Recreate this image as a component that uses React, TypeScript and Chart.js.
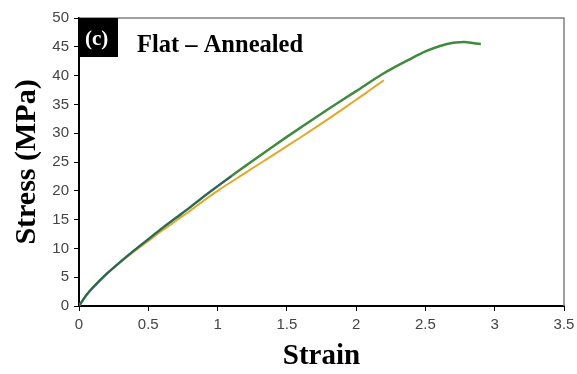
import React, { useEffect, useRef } from "react";
import { Chart, registerables } from "chart.js";

Chart.register(...registerables);

const xTicks = [0, 0.5, 1, 1.5, 2, 2.5, 3, 3.5];
const yTicks = [0, 5, 10, 15, 20, 25, 30, 35, 40, 45, 50];

const greenStrain = [0, 0.05, 0.1, 0.2, 0.3, 0.4, 0.5, 0.6, 0.7, 0.8, 0.9, 1.0, 1.2, 1.4, 1.6, 1.8, 2.0, 2.2, 2.4, 2.5, 2.6, 2.7, 2.75, 2.8, 2.85, 2.9];
const greenStress = [0, 1.8, 3.2, 5.6, 7.7, 9.7, 11.6, 13.5, 15.3, 17.1, 19.0, 20.8, 24.3, 27.7, 31.0, 34.2, 37.3, 40.4, 43.0, 44.2, 45.1, 45.7, 45.8, 45.8, 45.6, 45.5];

const orangeStrain = [0, 0.05, 0.1, 0.2, 0.3, 0.4, 0.5, 0.6, 0.7, 0.8, 0.9, 1.0, 1.2, 1.4, 1.6, 1.8, 2.0, 2.1, 2.2];
const orangeStress = [0, 1.8, 3.2, 5.6, 7.6, 9.5, 11.3, 13.1, 14.8, 16.5, 18.3, 20.0, 23.1, 26.2, 29.3, 32.5, 35.8, 37.5, 39.2];

const blueStrain = [0, 0.05, 0.1, 0.2, 0.3, 0.4, 0.5, 0.6, 0.7, 0.8, 0.9, 1.0, 1.1];
const blueStress = [0, 1.8, 3.2, 5.6, 7.7, 9.7, 11.6, 13.5, 15.3, 17.1, 19.0, 20.8, 22.5];

const pts = (xs: number[], ys: number[]) => xs.map((x, i) => ({ x, y: ys[i] }));

const annotate = {
  id: "annotate",
  afterDraw(chart: any) {
    const { ctx, chartArea: a } = chart;
    ctx.save();
    ctx.strokeStyle = "#808080";
    ctx.lineWidth = 1.5;
    ctx.beginPath();
    ctx.moveTo(a.left, a.top);
    ctx.lineTo(a.right, a.top);
    ctx.lineTo(a.right, a.bottom);
    ctx.stroke();
    ctx.fillStyle = "#000";
    ctx.fillRect(a.left, a.top, 39, 39);
    ctx.fillStyle = "#fff";
    ctx.font = "bold 21px 'Liberation Serif'";
    ctx.textBaseline = "alphabetic";
    ctx.fillText("(c)", a.left + 6, a.top + 27);
    ctx.fillStyle = "#000";
    ctx.font = "bold 24.5px 'Liberation Serif'";
    ctx.fillText("Flat \u2013 Annealed", a.left + 58, a.top + 34);
    ctx.restore();
  },
};

export default function App() {
  const ref = useRef<HTMLCanvasElement>(null);
  useEffect(() => {
    const chart = new Chart(ref.current!, {
      type: "scatter",
      data: {
        datasets: [
          { label: "Green", data: pts(greenStrain, greenStress), showLine: true, borderColor: "#3f8a3c", borderWidth: 2.5, pointRadius: 0, tension: 0.3, order: 2 },
          { label: "Blue", data: pts(blueStrain, blueStress), showLine: true, borderColor: "#2b5e6e", borderWidth: 1.5, pointRadius: 0, tension: 0.3, order: 1 },
          { label: "Orange", data: pts(orangeStrain, orangeStress), showLine: true, borderColor: "#e4a825", borderWidth: 2, pointRadius: 0, tension: 0.3, order: 3 },
        ],
      },
      options: {
        animation: false,
        responsive: false,
        layout: { padding: { top: 18, right: 13, left: 0, bottom: 0 } },
        plugins: { legend: { display: false }, tooltip: { enabled: false } },
        scales: {
          x: {
            type: "linear",
            min: 0,
            max: 3.5,
            afterBuildTicks: (s: any) => { s.ticks = xTicks.map((v) => ({ value: v })); },
            afterFit: (s: any) => { s.height = 68; s.paddingRight = 0; },
            ticks: { font: { family: "'Liberation Sans'", size: 15 }, color: "#444", padding: 5, callback: (v: any) => String(v) },
            grid: { drawOnChartArea: false, drawTicks: true, tickLength: 5, color: "#000", lineWidth: 1 },
            border: { color: "#000", width: 2 },
            title: { display: true, text: "Strain", font: { family: "'Liberation Serif'", size: 29, weight: "bold" }, color: "#000", padding: { top: 0, bottom: 0 } },
          },
          y: {
            type: "linear",
            min: 0,
            max: 50,
            afterBuildTicks: (s: any) => { s.ticks = yTicks.map((v) => ({ value: v })); },
            afterFit: (s: any) => { s.width = 79; },
            ticks: { font: { family: "'Liberation Sans'", size: 15 }, color: "#444", padding: 5, callback: (v: any) => String(v) },
            grid: { drawOnChartArea: false, drawTicks: true, tickLength: 5, color: "#000", lineWidth: 1 },
            border: { color: "#000", width: 2 },
            title: { display: true, text: "Stress (MPa)", font: { family: "'Liberation Serif'", size: 30, weight: "bold" }, color: "#000", padding: { top: 9, bottom: 0 } },
          },
        },
      },
      plugins: [annotate],
    } as any);
    return () => chart.destroy();
  }, []);
  return (
    <div style={{ position: "fixed", left: 0, top: 0, width: 577, height: 374, background: "#fff" }}>
      <canvas ref={ref} width={577} height={374} />
    </div>
  );
}
